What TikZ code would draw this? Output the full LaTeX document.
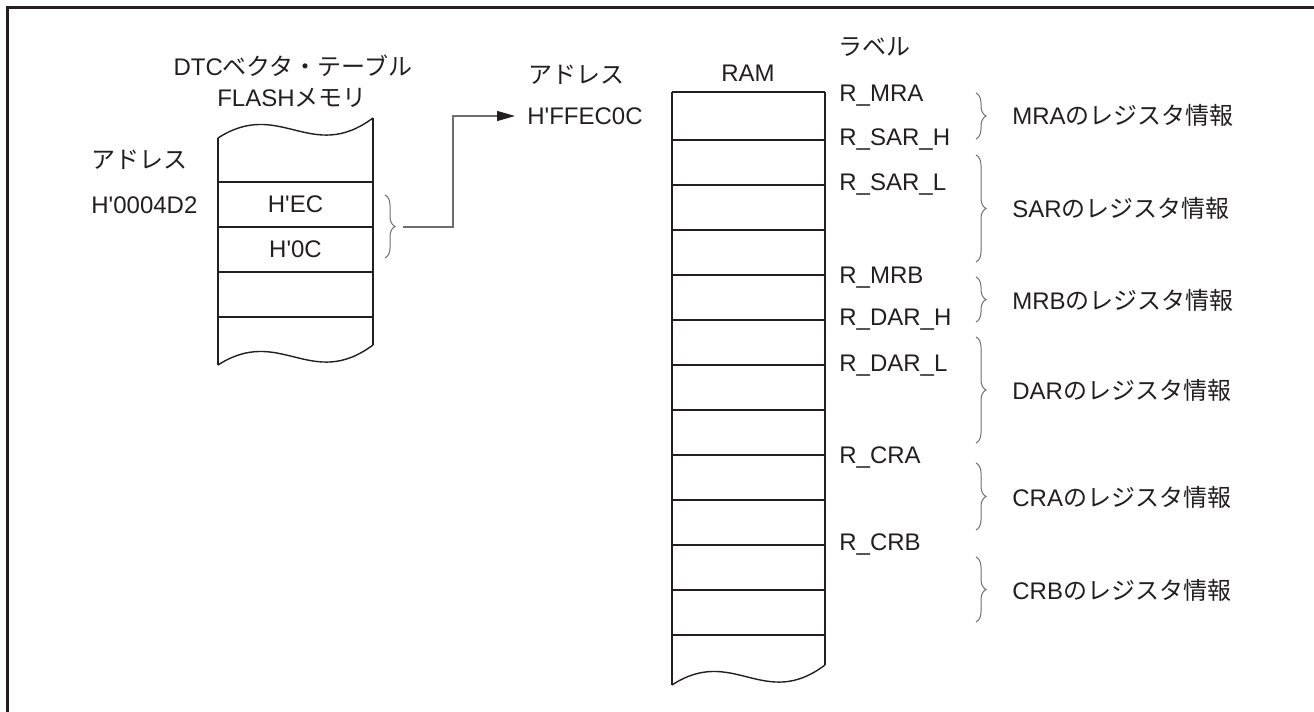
\documentclass[tikz,border=0pt]{standalone}
\usepackage{fontspec}
\setmainfont{Liberation Sans}[Ligatures=TeXOff]
\newfontfamily\jp{Noto Sans CJK JP}
\usepackage{tikz}
\usetikzlibrary{arrows.meta, decorations.pathreplacing}

\definecolor{ink}{HTML}{231F20}
\definecolor{wire}{HTML}{6E6E6E}

\begin{document}
\begin{tikzpicture}[
    x=0.5pt, y=-0.5pt,
    every node/.style={font=\fontsize{12}{14}\selectfont, text=ink},
    lbl/.style={anchor=west, inner sep=0pt},
    cell/.style={inner sep=0pt},
    mem/.style={draw=ink, line width=0.7pt},
    regbrace/.style={decorate, decoration={brace, amplitude=5pt},
                     draw=wire, line width=0.5pt},
    link/.style={draw=wire, line width=0.6pt,
                 -{Triangle[length=9pt, width=5pt, color=ink]}}
]
    \useasboundingbox (0,0) rectangle (1314,712);

    % --- frame ---
    \draw[ink, line width=1.2pt] (7.5,712) -- (7.5,7.5) -- (1314,7.5);

    % --- FLASH memory (DTC vector table) ---
    \node[cell] (fltitle) at (293,66) {DTC{\jp ベクタ・テーブル}};
    \node[cell] (flmem)   at (292,98) {FLASH{\jp メモリ}};
    \node[lbl] (fladdr)  at (91,160) {\jp アドレス};
    \node[lbl] (flvalue) at (91,205) {H'0004D2};

    \draw[mem] (218,138) .. controls (280,98) and (311,164) .. (373,118);
    \draw[mem] (218,138) -- (218,365);
    \draw[mem] (373,118) -- (373,345);
    \draw[mem] (218,182) -- (373,182);
    \draw[mem] (218,227) -- (373,227);
    \draw[mem] (218,272) -- (373,272);
    \draw[mem] (218,317) -- (373,317);
    \draw[mem] (218,365) .. controls (280,325) and (311,391) .. (373,345);

    \node[cell] (hec) at (295.5,204.5) {H'EC};
    \node[cell] (h0c) at (295.5,249.5) {H'0C};

    \draw[regbrace] (385,195) -- (385,258);
    \coordinate (flbr) at (403,227);

    % --- RAM ---
    \node[cell] (ramtitle) at (748,73) {RAM};
    \node[cell] (ramaddrlbl) at (576,75) {\jp アドレス};
    \node[lbl] (ramaddr) at (527,116) {H'FFEC0C};

    \draw[mem] (672,92) -- (825,92);
    \draw[mem] (672,92) -- (672,685);
    \draw[mem] (825,92) -- (825,665);
    \draw[mem] (672,140) -- (825,140);
    \draw[mem] (672,185) -- (825,185);
    \draw[mem] (672,230) -- (825,230);
    \draw[mem] (672,275) -- (825,275);
    \draw[mem] (672,320) -- (825,320);
    \draw[mem] (672,365) -- (825,365);
    \draw[mem] (672,410) -- (825,410);
    \draw[mem] (672,455) -- (825,455);
    \draw[mem] (672,500) -- (825,500);
    \draw[mem] (672,545) -- (825,545);
    \draw[mem] (672,590) -- (825,590);
    \draw[mem] (672,635) -- (825,635);
    \draw[mem] (672,685) .. controls (733,645) and (764,711) .. (825,665);

    % --- labels ---
    \node[lbl] (labeltitle) at (838,47) {\jp ラベル};
    \node[lbl] (rmra)  at (839,96)  {R\_MRA};
    \node[lbl] (rsarh) at (839,140) {R\_SAR\_H};
    \node[lbl] (rsarl) at (839,185) {R\_SAR\_L};
    \node[lbl] (rmrb)  at (839,278) {R\_MRB};
    \node[lbl] (rdarh) at (839,320) {R\_DAR\_H};
    \node[lbl] (rdarl) at (839,366) {R\_DAR\_L};
    \node[lbl] (rcra)  at (839,458) {R\_CRA};
    \node[lbl] (rcrb)  at (839,545) {R\_CRB};

    % --- register info ---
    \draw[regbrace] (976,93)  -- (976,139);
    \draw[regbrace] (976,155) -- (976,262);
    \draw[regbrace] (976,277) -- (976,322);
    \draw[regbrace] (976,337) -- (976,443);
    \draw[regbrace] (976,463) -- (976,530);
    \draw[regbrace] (976,557) -- (976,622);

    \node[lbl] (infomra) at (1012,115) {MRA{\jp のレジスタ情報}};
    \node[lbl] (infosar) at (1012,208) {SAR{\jp のレジスタ情報}};
    \node[lbl] (infomrb) at (1012,300) {MRB{\jp のレジスタ情報}};
    \node[lbl] (infodar) at (1012,390) {DAR{\jp のレジスタ情報}};
    \node[lbl] (infocra) at (1012,497) {CRA{\jp のレジスタ情報}};
    \node[lbl] (infocrb) at (1012,590) {CRB{\jp のレジスタ情報}};

    % --- vector -> RAM address ---
    \draw[link] (flbr) -- ++(50,0) |- ([xshift=-6pt]ramaddr.west);
\end{tikzpicture}
\end{document}
